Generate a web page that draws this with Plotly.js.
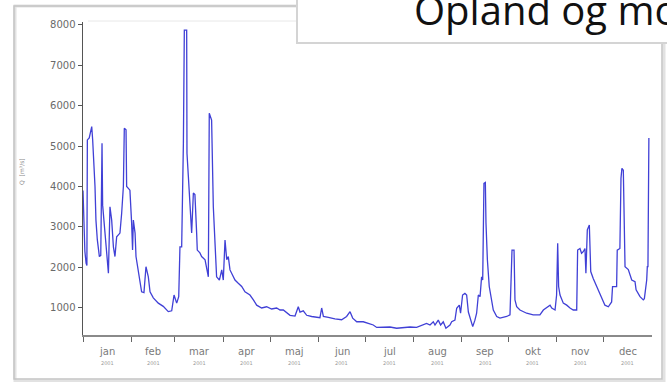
<!DOCTYPE html>
<html>
<head>
<meta charset="utf-8">
<script src="https://cdn.plot.ly/plotly-3.0.1.min.js"></script>
<style>
  html, body { margin: 0; padding: 0; background: #fff; }
  #chart { width: 667px; height: 382px; }
</style>
</head>
<body>
<div id="chart"></div>
<script>
// Daily discharge through the year (day of year, m³/s)
const flowDay = [
  0, 0.6, 1.2, 2, 2.5, 2.8, 4, 5.6, 6.2, 7.7, 8.3, 9.2, 10.5, 11.4, 12.2, 12.6, 13.5, 14.3, 15.2, 16.3,
  17.3, 18.4, 19.5, 20.5, 21.6, 23.7, 24.8, 25.9, 26.5, 27.6, 28, 30.1, 31.2, 31.8, 32.3, 33.4, 34, 35.5,
  37.6, 39.1, 40.4, 41.9, 43, 45.1, 48.3, 51.5, 54.7, 56.9, 58.4, 60.1, 61.4, 62.2, 63.3, 64.4, 65, 66.5,
  66.7, 67.6, 68.6, 69.7, 70.8, 71.8, 72.9, 73.3, 75, 76.1, 78.3, 79.3, 80.4, 81, 82.5, 83.6, 84.4, 85.7,
  87.5, 89, 90, 91.1, 92.2, 93.2, 94.3, 95.4, 97.5, 99.6, 101.8, 103.9, 106, 107.1, 109.3, 111.4, 114.6,
  117.8, 121, 124.2, 126.4, 128.5, 132.8, 136, 138.1, 139.2, 141.3, 143.5, 146.7, 152, 153.1, 154.2, 157.4,
  161.6, 165.9, 169.1, 171.3, 173, 175.6, 179.8, 183, 186.2, 188.4, 192.6, 196.9, 201.2, 205.5, 209.8, 214,
  218.3, 220.4, 222.6, 224.7, 225.8, 227.9, 229.4, 231.1, 232.8, 235.4, 236.5, 238.6, 239.7, 241.4, 242.2,
  243.5, 245, 246.1, 247.2, 248.7, 250, 251.4, 252.5, 253.6, 254.7, 255.7, 256.4, 257.2, 258.1, 258.5,
  259.4, 260.6, 262.2, 263.2, 265.4, 267.5, 271.8, 273.9, 275.2, 276.5, 277.1, 278.2, 280.3, 284.6, 288.8,
  293.1, 295.3, 297.4, 299.6, 300.7, 302.8, 303.8, 304.5, 305.1, 306, 308.1, 310.3, 312.4, 314.5, 316.7,
  317.3, 318.8, 319.8, 320.9, 322, 322.6, 323.5, 324.8, 325.7, 327.3, 329.5, 331.6, 334.8, 337, 339.1,
  339.7, 342.3, 342.7, 344.4, 345.1, 345.7, 346.6, 347, 347.7, 349.8, 352, 354.1, 354.8, 357.3, 359.4,
  360.1, 361.6, 362, 362.4, 363
];
const flowQ = [
  3900, 2900, 2400, 2100, 2050, 5150, 5200, 5480, 5150, 4000, 3170, 2680, 2270, 2300, 5070, 3540, 3170, 2850, 2360, 1860,
  3500, 3170, 2510, 2270, 2760, 2850, 3340, 4000, 5440, 5400, 4000, 3910, 3090, 2430, 3170, 2850, 2270, 1860,
  1400, 1380, 2020, 1770, 1400, 1250, 1120, 1040, 910, 930, 1320, 1120, 1280, 2510, 2510, 5070, 7860, 7860,
  4820, 4240, 3500, 2850, 3840, 3800, 2850, 2430, 2360, 2270, 2190, 1940, 1770, 5810, 5640, 3500, 2850, 1770,
  1690, 1940, 1690, 2680, 2190, 2270, 1940, 1860, 1690, 1610, 1530, 1400, 1360, 1320, 1200, 1070, 1000,
  1030, 975, 1000, 950, 950, 820, 800, 1030, 900, 930, 820, 790, 760, 1000, 790, 770,
  730, 710, 790, 910, 750, 660, 660, 620, 580, 520, 530, 530, 500, 520, 530, 520,
  580, 620, 580, 660, 580, 700, 580, 660, 500, 580, 660, 700, 990, 1070, 870,
  1320, 1360, 1320, 900, 700, 540, 700, 870, 1320, 1280, 1770, 1690, 4080, 4100, 3100,
  2190, 1530, 1200, 950, 790, 750, 790, 830, 2430, 2430, 1200, 1030, 950, 870, 830,
  830, 950, 1000, 1070, 1000, 950, 1320, 2600, 1530, 1320, 1120, 1070, 1000, 950, 950,
  2430, 2470, 2350, 2390, 2470, 1860, 2930, 3050, 1900, 1730, 1530, 1360, 1070, 1030, 1150,
  1530, 1530, 2430, 2470, 4200, 4450, 4400, 3100, 2020, 1950, 1690, 1650, 1450, 1280, 1200,
  1230, 1690, 2020, 2020, 5200
];

// Month axis
const monthNames = ['jan', 'feb', 'mar', 'apr', 'maj', 'jun', 'jul', 'aug', 'sep', 'okt', 'nov', 'dec'];
const monthStart = [0, 31, 59, 90, 120, 151, 181, 212, 243, 273, 304, 334, 365];
const yearLabel = '2001';
const qTicks = [1000, 2000, 3000, 4000, 5000, 6000, 7000, 8000];

const headline = 'Opland og mo';
const qTitle = 'Q  [m³/s]';

// plot area in pixels: x 83..652, y 22..335
const L = 83, R = 652, T = 22, B = 335;
const px = X => (X - L) / (R - L);
const py = Y => (B - Y) / (B - T);

const trace = {
  x: flowDay,
  y: flowQ,
  type: 'scatter',
  mode: 'lines',
  line: { color: 'rgb(64,64,214)', width: 1.3 },
  hoverinfo: 'skip'
};

const annotations = [];
for (let i = 0; i < 12; i++) {
  const mid = (monthStart[i] + monthStart[i + 1]) / 2;
  annotations.push({
    x: mid, xref: 'x', y: py(351), yref: 'paper',
    text: monthNames[i], showarrow: false, xanchor: 'center', yanchor: 'middle',
    font: { family: 'DejaVu Sans', size: 10, color: '#7a7a7a' }
  });
  annotations.push({
    x: mid, xref: 'x', y: py(363), yref: 'paper',
    text: yearLabel, showarrow: false, xanchor: 'center', yanchor: 'middle',
    font: { family: 'DejaVu Sans', size: 5, color: '#9a9a9a' }
  });
}
annotations.push({
  x: px(21), xref: 'paper', y: py(172), yref: 'paper',
  text: qTitle, showarrow: false, textangle: -90,
  xanchor: 'center', yanchor: 'middle',
  font: { family: 'DejaVu Sans', size: 6, color: '#8a8a8a' }
});
annotations.push({
  x: px(412), xref: 'paper', y: py(9), yref: 'paper',
  text: headline, showarrow: false, xanchor: 'left', yanchor: 'middle',
  font: { family: 'Open Sans', size: 40, color: '#111' }
});

const shapes = [
  // card shadow + border
  { type: 'rect', xref: 'paper', yref: 'paper',
    x0: px(15), x1: px(664), y0: py(381), y1: py(6),
    line: { color: '#e2e2e2', width: 3 }, fillcolor: 'rgba(0,0,0,0)', layer: 'below' },
  { type: 'rect', xref: 'paper', yref: 'paper',
    x0: px(14), x1: px(662), y0: py(379), y1: py(6),
    line: { color: '#c4c4c4', width: 1.5 }, fillcolor: 'rgba(0,0,0,0)', layer: 'below' },
  // faint frame line at the top of the plot
  { type: 'line', xref: 'paper', yref: 'paper',
    x0: px(88), x1: px(300), y0: py(21), y1: py(21),
    line: { color: '#e8e8e8', width: 1 }, layer: 'below' },
  // headline box
  { type: 'rect', xref: 'paper', yref: 'paper',
    x0: px(297), x1: px(672), y0: py(43), y1: py(-3),
    line: { color: '#d4d4d4', width: 2 }, fillcolor: '#ffffff', layer: 'above' }
];

const layout = {
  width: 667, height: 382,
  margin: { l: L, r: 667 - R, t: T, b: 382 - B, pad: 0 },
  paper_bgcolor: '#ffffff', plot_bgcolor: '#ffffff',
  showlegend: false,
  xaxis: {
    range: [0, 365], tickmode: 'array', tickvals: monthStart.slice(0, 12),
    showticklabels: false, ticks: 'outside', ticklen: 5, tickwidth: 1, tickcolor: '#666',
    showline: true, linecolor: '#8a8a8a', linewidth: 2,
    showgrid: false, zeroline: false, fixedrange: true
  },
  yaxis: {
    range: [333, 8062], tickmode: 'array', tickvals: qTicks,
    ticktext: qTicks.map(String),
    ticks: 'outside', ticklen: 4, tickwidth: 1, tickcolor: '#555',
    tickfont: { family: 'DejaVu Sans', size: 10, color: '#6a6a6a' },
    showline: true, linecolor: '#555', linewidth: 1.5,
    showgrid: false, zeroline: false, fixedrange: true
  },
  shapes: shapes,
  annotations: annotations
};

Plotly.newPlot('chart', [trace], layout, { staticPlot: true, displayModeBar: false });
</script>
</body>
</html>
